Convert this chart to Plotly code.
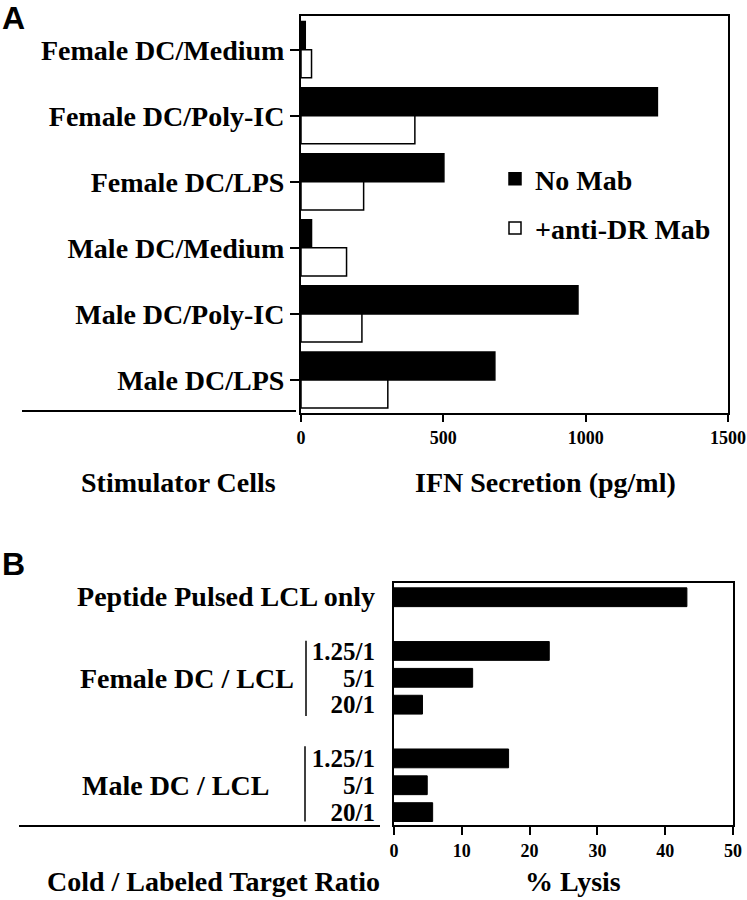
import plotly.graph_objects as go

W, H = 747, 900

# ---- Panel A data ----
stimulators = ["Female DC/Medium", "Female DC/Poly-IC", "Female DC/LPS",
               "Male DC/Medium", "Male DC/Poly-IC", "Male DC/LPS"]
no_mab = [15, 1252, 502, 37, 973, 681]
anti_dr = [37, 400, 220, 160, 214, 305]
ifn_ticks = [0, 500, 1000, 1500]

# ---- Panel B data ----
ratio_pos = [0, 2, 3, 4, 6, 7, 8]
ratio_labels = ["Peptide Pulsed LCL only", "1.25/1", "5/1", "20/1",
                "1.25/1", "5/1", "20/1"]
lysis = [43.2, 22.9, 11.6, 4.2, 16.9, 4.9, 5.7]
lysis_ticks = [0, 10, 20, 30, 40, 50]


def px(x):
    return x / W


def py(y):
    return 1 - y / H


SERIF = "Liberation Serif"
LBL = 28

# first B label is larger than the ratio labels
ratio_ticktext = [f'<span style="font-size:28px">{t}</span>' if i == 0 else t
                  for i, t in enumerate(ratio_labels)]

fig = go.Figure()
fig.add_trace(go.Bar(y=stimulators, x=no_mab, orientation="h", name="No Mab",
                     legendgroup="a",
                     marker=dict(color="black", line=dict(color="black", width=1.5)),
                     xaxis="x", yaxis="y"))
fig.add_trace(go.Bar(y=stimulators, x=anti_dr, orientation="h", name="+anti-DR Mab",
                     legendgroup="b",
                     marker=dict(color="white", line=dict(color="black", width=1.5)),
                     xaxis="x", yaxis="y"))
fig.add_trace(go.Bar(y=ratio_pos, x=lysis, orientation="h", width=0.7,
                     showlegend=False,
                     marker=dict(color="black", line=dict(color="black", width=1)),
                     xaxis="x2", yaxis="y2"))

axis_common = dict(showline=True, linecolor="black", linewidth=2, mirror=True,
                   showgrid=False, zeroline=False, tickcolor="black", tickwidth=2,
                   automargin=False)

fig.update_layout(
    width=W, height=H, autosize=False,
    margin=dict(l=0, r=0, t=0, b=0),
    paper_bgcolor="white", plot_bgcolor="white",
    font=dict(family=SERIF, color="black", size=LBL, weight="bold"),
    barmode="group", bargap=0.15, bargroupgap=0,
    xaxis=dict(domain=[px(301), px(728)], range=[0, 1500], tickvals=ifn_ticks,
               ticks="outside", ticklen=7, tickfont=dict(size=18), anchor="y",
               **axis_common),
    yaxis=dict(domain=[py(413), py(16)], range=[5.5, -0.51], type="category",
               ticks="outside", ticklen=9, tickfont=dict(size=LBL), anchor="x",
               **axis_common),
    xaxis2=dict(domain=[px(394), px(733)], range=[0, 50], tickvals=lysis_ticks,
                ticks="outside", ticklen=8, tickfont=dict(size=18), anchor="y2",
                **axis_common),
    yaxis2=dict(domain=[py(825), py(583)], range=[8.48, -0.53],
                tickvals=ratio_pos, ticktext=ratio_ticktext, ticks="",
                ticklabelstandoff=12, tickfont=dict(size=25), anchor="x2",
                **axis_common),
    legend=dict(x=px(495), y=py(154), xanchor="left", yanchor="top",
                font=dict(size=LBL), bgcolor="rgba(0,0,0,0)",
                tracegroupgap=10, traceorder="grouped"),
)

annos = [
    dict(text="A", x=px(0), y=py(18), xanchor="left",
         font=dict(family="Liberation Sans", size=32, weight="bold")),
    dict(text="B", x=px(0), y=py(564), xanchor="left",
         font=dict(family="Liberation Sans", size=32, weight="bold")),
    dict(text="Stimulator Cells", x=px(178), y=py(483), xanchor="center"),
    dict(text="IFN Secretion (pg/ml)", x=px(545), y=py(483), xanchor="center"),
    dict(text="Cold / Labeled Target Ratio", x=px(213), y=py(899), xanchor="center",
         yanchor="bottom"),
    dict(text="% Lysis", x=px(573), y=py(899), xanchor="center", yanchor="bottom"),
    dict(text="Female DC / LCL", x=px(78), y=py(678), xanchor="left"),
    dict(text="Male DC / LCL", x=px(80), y=py(785), xanchor="left"),
]
for a in annos:
    a.setdefault("yanchor", "middle")
    a.update(xref="paper", yref="paper", showarrow=False)
    fig.add_annotation(**a)

line = dict(color="black", width=2)
fig.add_shape(type="line", xref="paper", yref="paper",
              x0=px(22), x1=px(296), y0=py(411), y1=py(411), line=line)
fig.add_shape(type="line", xref="paper", yref="paper",
              x0=px(19), x1=px(380), y0=py(826), y1=py(826), line=line)
fig.add_shape(type="line", xref="paper", yref="y2",
              x0=px(306), x1=px(306), y0=1.62, y1=4.42, line=dict(color="black", width=1.5))
fig.add_shape(type="line", xref="paper", yref="y2",
              x0=px(305), x1=px(305), y0=5.55, y1=8.35, line=dict(color="black", width=1.5))

fig.write_html(
    "out.html",
    config={"displayModeBar": False, "responsive": False},
    post_script=("document.body.style.margin='0';"
                 "document.body.style.overflow='hidden';"
                 "document.documentElement.style.overflow='hidden';"),
)
